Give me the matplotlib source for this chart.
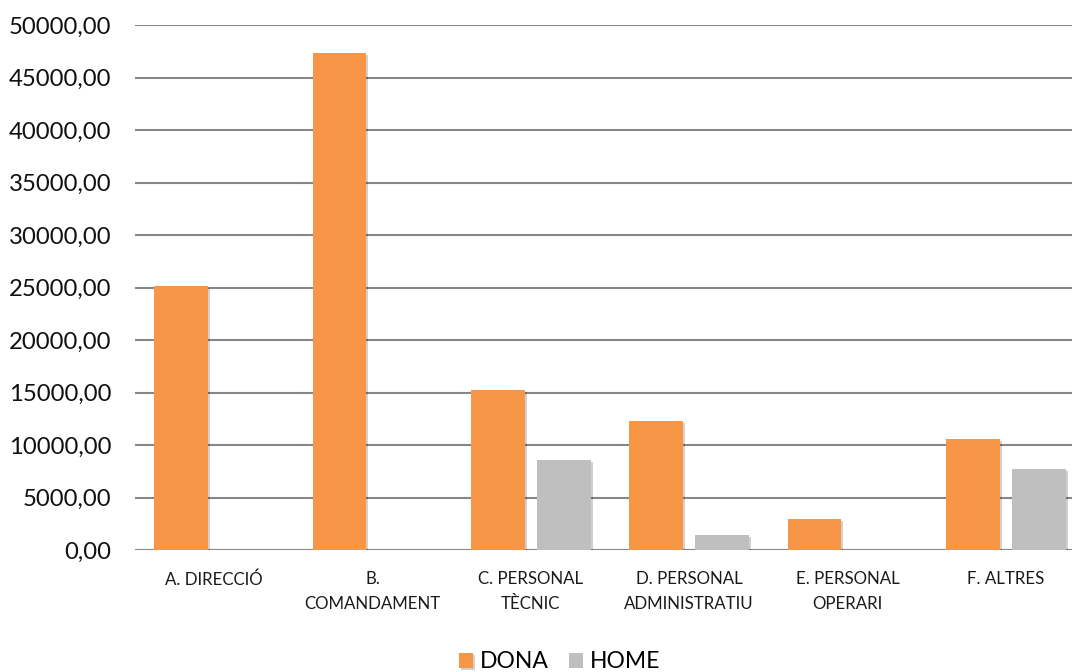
import matplotlib
matplotlib.use("Agg")
import matplotlib.pyplot as plt
import matplotlib.patheffects as pe
from matplotlib.ticker import FuncFormatter, MultipleLocator
import numpy as np

categories = ["A. DIRECCIÓ", "B.\nCOMANDAMENT", "C. PERSONAL\nTÈCNIC",
              "D. PERSONAL\nADMINISTRATIU", "E. PERSONAL\nOPERARI", "F. ALTRES"]
dona = [25150, 47300, 15280, 12320, 2990, 10560]
home = [0, 0, 8560, 1460, 0, 7740]
series_names = ["DONA", "HOME"]
colors = ["#F79646", "#BFBFBF"]

plt.rcParams["font.family"] = ["Lato", "DejaVu Sans"]

fig = plt.figure(figsize=(10.72, 6.72), dpi=100)
ax = fig.add_axes([0.1259, 0.1811, 0.8862, 0.7817])

x = np.arange(len(categories))
width = 0.338
offset = 0.2085
shadow = [pe.SimplePatchShadow(offset=(1.5, -1.5), alpha=0.18, shadow_rgbFace="#000000"), pe.Normal()]

for vals, off, col, name in zip([dona, home], [-offset, offset], colors, series_names):
    bars = ax.bar(x + off, vals, width=width, color=col, label=name, zorder=3)
    for b in bars:
        if b.get_height() > 0:
            b.set_path_effects(shadow)

ax.set_xlim(-0.5, len(categories) - 0.5)
ax.set_ylim(0, 50000)
ax.yaxis.set_major_locator(MultipleLocator(5000))
ax.yaxis.set_major_formatter(FuncFormatter(lambda v, p: f"{v:.2f}".replace(".", ",")))
ax.grid(axis="y", color="#878787", linewidth=1.5, zorder=0)
ax.set_axisbelow(True)
for s in ax.spines.values():
    s.set_visible(False)

ax.tick_params(axis="y", length=0, pad=17, labelsize=17.2, labelcolor="#111111")
ax.tick_params(axis="x", length=0, pad=15, labelsize=12.2, labelcolor="#1a1a1a")
ax.set_xticks(x)
ax.set_xticklabels(categories, linespacing=1.7)

handles, labels = ax.get_legend_handles_labels()
fig.legend(handles, labels, loc="center", bbox_to_anchor=(0.522, 0.015), ncol=2,
           frameon=False, fontsize=16.5, handlelength=0.6, handleheight=0.6,
           handletextpad=0.3, columnspacing=0.9, borderaxespad=0)

fig.savefig("out.png", dpi=100, facecolor="white")
